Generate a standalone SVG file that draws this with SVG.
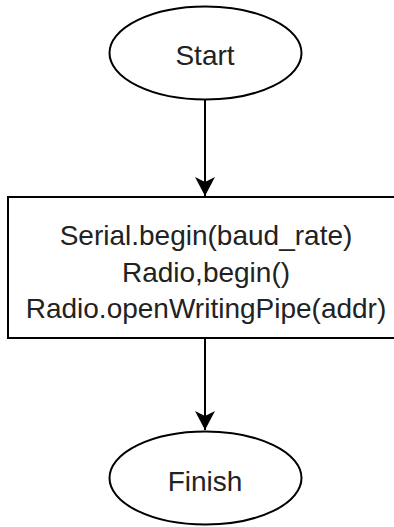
<svg xmlns="http://www.w3.org/2000/svg" width="394" height="527" viewBox="0 0 394 527">
  <style>
    .shape { fill: #ffffff; stroke: #000000; stroke-width: 2; }
    .edge { fill: none; stroke: #000000; stroke-width: 2; }
    .label { font-family: "Liberation Sans", Arial, sans-serif; font-size: 28px; fill: #222222; text-anchor: middle; }
  </style>
  <defs>
    <!-- classic notched arrowhead, tip at the line end -->
    <marker id="arrow" markerUnits="userSpaceOnUse" markerWidth="22" markerHeight="22" viewBox="-20 -11 22 22" refX="0" refY="0" orient="auto">
      <path d="M0,0 L-19,-10 L-14,0 L-19,10 Z" fill="#000000"/>
    </marker>
  </defs>
  <rect width="394" height="527" fill="#ffffff"/>

  <g id="connectors">
    <line class="edge" x1="205" y1="100" x2="205" y2="196" marker-end="url(#arrow)"/>
    <line class="edge" x1="205" y1="338" x2="205" y2="430" marker-end="url(#arrow)"/>
  </g>

  <g id="start">
    <ellipse class="shape" cx="205.5" cy="53" rx="96" ry="46.5"/>
    <text class="label" x="205" y="65">Start</text>
  </g>

  <g id="setup">
    <rect class="shape" x="8" y="197" width="396" height="141"/>
    <text class="label" x="206" y="245">Serial.begin(baud_rate)</text>
    <text class="label" x="206" y="282">Radio,begin()</text>
    <text class="label" x="206" y="318">Radio.openWritingPipe(addr)</text>
  </g>

  <g id="finish">
    <ellipse class="shape" cx="205.5" cy="478" rx="96" ry="46.5"/>
    <text class="label" x="205" y="491">Finish</text>
  </g>
</svg>
